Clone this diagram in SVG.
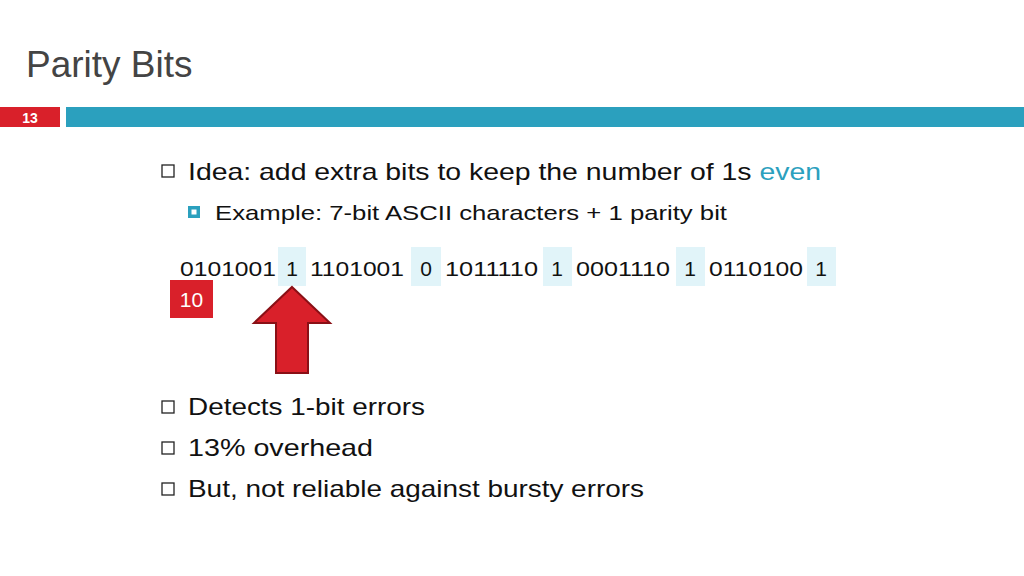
<svg xmlns="http://www.w3.org/2000/svg" width="1024" height="576" viewBox="0 0 1024 576">
<style>
text{font-family:"Liberation Sans",Arial,sans-serif;fill:#111}
.b{font-size:24px}
.bit{font-size:21px}
.hl{fill:#e1f4f9}
.box{fill:none;stroke:#222;stroke-width:1.3}
</style>
<rect width="1024" height="576" fill="#fff"/>
<g id="title"><text x="26" y="77" font-size="37" style="fill:#444">Parity Bits</text></g>
<g id="header-bar">
<rect x="0" y="107" width="60" height="20" fill="#d9202a"/>
<text x="30" y="123" font-size="14" font-weight="bold" text-anchor="middle" style="fill:#fff">13</text>
<rect x="66" y="107" width="958" height="20" fill="#2ba0be"/>
</g>
<g id="bullets">
<rect class="box" x="162" y="165" width="12" height="12"/>
<text class="b" x="188" y="180" textLength="633" lengthAdjust="spacingAndGlyphs">Idea: add extra bits to keep the number of 1s <tspan style="fill:#2ba0be">even</tspan></text>
<rect x="188" y="206" width="12" height="12" fill="#2ba0be"/><rect x="191.5" y="209.5" width="5" height="5" fill="#fff"/>
<text x="215" y="220" font-size="21" textLength="512" lengthAdjust="spacingAndGlyphs">Example: 7-bit ASCII characters + 1 parity bit</text>
<rect class="box" x="162" y="401" width="12" height="12"/>
<text class="b" x="188" y="415" textLength="237" lengthAdjust="spacingAndGlyphs">Detects 1-bit errors</text>
<rect class="box" x="162" y="442" width="12" height="12"/>
<text class="b" x="188" y="456" textLength="185" lengthAdjust="spacingAndGlyphs">13% overhead</text>
<rect class="box" x="162" y="483" width="12" height="12"/>
<text class="b" x="188" y="497" textLength="456" lengthAdjust="spacingAndGlyphs">But, not reliable against bursty errors</text>
</g>
<g id="bits">
<rect class="hl" x="278" y="247" width="28" height="39"/>
<rect class="hl" x="411" y="247" width="30" height="39"/>
<rect class="hl" x="543" y="247" width="29" height="39"/>
<rect class="hl" x="676" y="247" width="29" height="39"/>
<rect class="hl" x="807" y="247" width="29" height="39"/>
<text class="bit" x="180" y="276" textLength="96" lengthAdjust="spacingAndGlyphs">0101001</text>
<text class="bit" x="292" y="276" text-anchor="middle">1</text>
<text class="bit" x="310" y="276" textLength="94" lengthAdjust="spacingAndGlyphs">1101001</text>
<text class="bit" x="426" y="276" text-anchor="middle">0</text>
<text class="bit" x="445" y="276" textLength="93" lengthAdjust="spacingAndGlyphs">1011110</text>
<text class="bit" x="557" y="276" text-anchor="middle">1</text>
<text class="bit" x="576" y="276" textLength="94" lengthAdjust="spacingAndGlyphs">0001110</text>
<text class="bit" x="690" y="276" text-anchor="middle">1</text>
<text class="bit" x="709" y="276" textLength="94" lengthAdjust="spacingAndGlyphs">0110100</text>
<text class="bit" x="821" y="276" text-anchor="middle">1</text>
</g>
<g id="counter">
<rect x="170" y="280" width="43" height="38" fill="#d9202a"/>
<text x="191.5" y="307" font-size="21" text-anchor="middle" style="fill:#fff">10</text>
</g>
<g id="arrow">
<polygon points="292,287 330,323 308,323 308,373 276,373 276,323 254,323" fill="#d9202a" stroke="#8a1016" stroke-width="2"/>
</g>
</svg>
